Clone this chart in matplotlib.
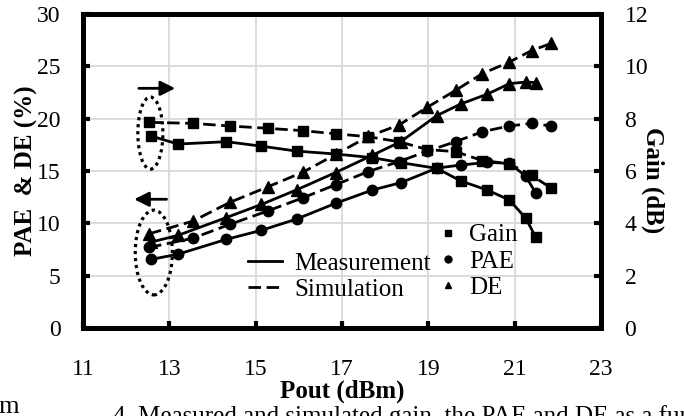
import matplotlib.pyplot as plt
from matplotlib.lines import Line2D
from matplotlib.patches import Ellipse

plt.rcParams['font.family'] = ['Liberation Serif', 'DejaVu Serif']

# measured sweep (Pout in dBm, gain in dB, efficiencies in %)
pout_meas = [12.57, 13.2, 14.32, 15.13, 15.95, 16.85, 17.7, 18.36, 19.2, 19.75, 20.37, 20.88, 21.26, 21.49]
gain_meas = [7.34, 7.03, 7.12, 6.95, 6.76, 6.65, 6.51, 6.32, 6.1, 5.62, 5.27, 4.89, 4.19, 3.46]
pae_meas = [6.55, 7.05, 8.47, 9.33, 10.41, 11.91, 13.18, 13.88, 15.28, 15.57, 15.83, 15.73, 14.5, 12.87]
de_meas = [8.2, 8.85, 10.55, 11.8, 13.2, 14.85, 16.5, 17.8, 20.3, 21.4, 22.35, 23.35, 23.5, 23.45]

# simulated sweep
pout_sim = [12.53, 13.54, 14.4, 15.29, 16.1, 16.86, 17.61, 18.32, 18.98, 19.63, 20.25, 20.87, 21.39, 21.85]
gain_sim = [7.86, 7.82, 7.72, 7.63, 7.54, 7.42, 7.31, 7.12, 6.82, 6.74, 6.4, 6.28, 5.84, 5.34]
pae_sim = [7.7, 8.57, 9.9, 11.2, 12.45, 13.7, 14.95, 15.9, 16.9, 17.8, 18.75, 19.3, 19.55, 19.3]
de_sim = [9.0, 10.2, 12.0, 13.5, 14.9, 16.6, 18.3, 19.4, 21.1, 22.7, 24.3, 25.4, 26.5, 27.2]

x_ticks = [11, 13, 15, 17, 19, 21, 23]
left_ticks = [0, 5, 10, 15, 20, 25, 30]
right_ticks = [0, 2, 4, 6, 8, 10, 12]

FS = 17
lw = 2.0
dash = (0, (4.5, 2))

fig = plt.figure(figsize=(6.84, 4.16), dpi=100)
ax = fig.add_axes([83 / 684, 1 - 328 / 416, 518 / 684, 314 / 416])
ax2 = ax.twinx()

ax.set_xlim(11, 23)
ax.set_ylim(0, 30)
ax2.set_ylim(0, 12)
ax.set_xticks(x_ticks)
ax.set_yticks(left_ticks)
ax2.set_yticks(right_ticks)

ax.grid(True, color='#d9d9d9', lw=1.3)
ax.set_axisbelow(True)

for a in (ax, ax2):
    for s in a.spines.values():
        s.set_linewidth(3.6)
        s.set_color('black')

ax.tick_params(axis='x', direction='in', length=5, width=3, pad=22, labelsize=FS)
ax.tick_params(axis='y', direction='in', length=5, width=3, pad=16, labelsize=FS)
ax2.tick_params(axis='y', direction='in', length=5, width=3, pad=17, labelsize=FS)

# efficiencies on the left axis
ax.plot(pout_meas, pae_meas, '-', color='k', lw=lw, marker='o', ms=7.5)
ax.plot(pout_meas, de_meas, '-', color='k', lw=lw, marker='^', ms=8)
ax.plot(pout_sim, pae_sim, linestyle=dash, color='k', lw=lw, marker='o', ms=7.5)
ax.plot(pout_sim, de_sim, linestyle=dash, color='k', lw=lw, marker='^', ms=8)

# gain on the right axis
ax2.plot(pout_meas, gain_meas, '-', color='k', lw=lw, marker='s', ms=7.5)
ax2.plot(pout_sim, gain_sim, linestyle=dash, color='k', lw=lw, marker='s', ms=7.5)

# dotted ellipses and arrows pointing to the axes
ax.add_patch(Ellipse((12.56, 18.62), 0.58, 6.9, fill=False, color='k', lw=2.3, linestyle=(0, (1, 1.2))))
ax.add_patch(Ellipse((12.64, 7.21), 0.86, 8.1, fill=False, color='k', lw=2.3, linestyle=(0, (1, 1.2))))
ax.annotate('', xy=(13.2, 22.9), xytext=(12.23, 22.9),
            arrowprops=dict(arrowstyle='-|>', color='k', lw=2, mutation_scale=22))
ax.annotate('', xy=(12.12, 12.3), xytext=(13.0, 12.3),
            arrowprops=dict(arrowstyle='-|>', color='k', lw=2, mutation_scale=22))

ax.set_xlabel('Pout (dBm)', fontsize=18, fontweight='bold')
ax.xaxis.label.set_va('center')
ax.xaxis.set_label_coords(0.5, -0.2)
ax.set_ylabel('PAE  & DE (%)', fontsize=18, fontweight='bold')
ax.yaxis.label.set_va('center')
ax.yaxis.set_label_coords(-0.11, 0.5)
ax2.set_ylabel('Gain (dB)', fontsize=18, fontweight='bold', rotation=270)
ax2.yaxis.label.set_va('center')
ax2.yaxis.set_label_coords(1.1, 0.47)

# line-style legend
style_handles = [Line2D([], [], color='k', lw=lw),
                 Line2D([], [], color='k', lw=lw, linestyle=dash)]
leg1 = ax2.legend(style_handles, ['Measurement', 'Simulation'], loc='center left',
                  bbox_to_anchor=(0.3185, 0.164), frameon=False, fontsize=18,
                  handlelength=1.36, handletextpad=0.5, labelspacing=0.15,
                  borderpad=0, borderaxespad=0)
ax2.add_artist(leg1)

# marker legend
marker_handles = [Line2D([], [], color='k', lw=0, marker='s', ms=4.5),
                  Line2D([], [], color='k', lw=0, marker='o', ms=5),
                  Line2D([], [], color='k', lw=0, marker='^', ms=5)]
ax2.legend(marker_handles, ['Gain', 'PAE', 'DE'], loc='center left',
           bbox_to_anchor=(0.69, 0.212), frameon=False, fontsize=18,
           handlelength=0.6, handletextpad=0.55, labelspacing=0.15,
           borderpad=0, borderaxespad=0)

# clipped caption from the page
fig.text(-0.002, 1 - 413 / 416, 'm', fontsize=19, va='baseline')
fig.text(0.165, 1 - 405 / 416, '4. Measured and simulated gain, the PAE and DE as a function of',
         fontsize=18, va='top')

fig.savefig('out.png', dpi=100)
